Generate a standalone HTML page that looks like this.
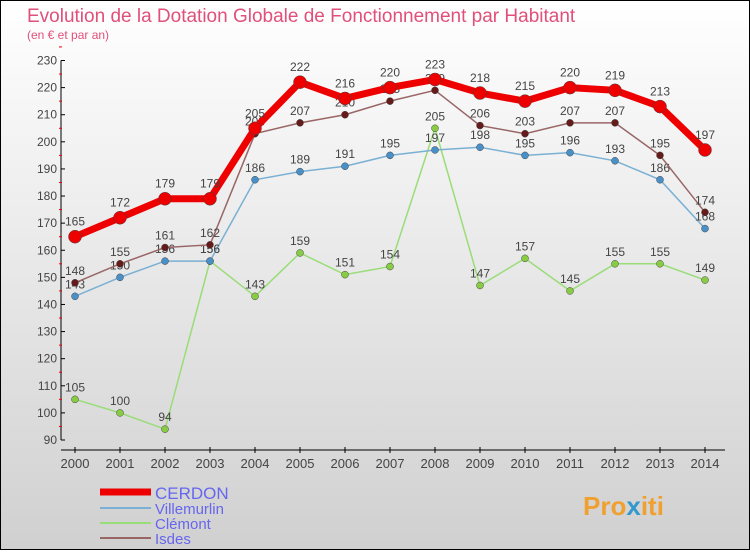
<!DOCTYPE html>
<html><head><meta charset="utf-8"><style>
body{margin:0;width:750px;height:550px;overflow:hidden;font-family:"Liberation Sans",sans-serif}
</style></head><body>
<svg width="750" height="550" xmlns="http://www.w3.org/2000/svg">
<defs><linearGradient id="bg" x1="0" y1="0" x2="0" y2="1"><stop offset="0" stop-color="#ffffff"/><stop offset="1" stop-color="#d0d0d0"/></linearGradient></defs>
<rect x="0.5" y="0.5" width="749" height="549" fill="url(#bg)" stroke="#000"/>
<text x="27" y="22" font-size="19" fill="#e0507a">Evolution de la Dotation Globale de Fonctionnement par Habitant</text>
<text x="27" y="39" font-size="12" fill="#e0507a">(en € et par an)</text>
<g id="axes"></g><g id="series"></g>
<g>
<line x1="100" y1="492" x2="151" y2="492" stroke="#ee0000" stroke-width="7"/>
<text x="155" y="499" font-size="17" fill="#6666ee">CERDON</text>
<line x1="100" y1="508" x2="151" y2="508" stroke="#7ab0d4" stroke-width="2"/>
<text x="155" y="514" font-size="15" fill="#6666ee">Villemurlin</text>
<line x1="100" y1="523" x2="151" y2="523" stroke="#99dd77" stroke-width="2"/>
<text x="155" y="529" font-size="15" fill="#6666ee">Clémont</text>
<line x1="100" y1="538" x2="151" y2="538" stroke="#996666" stroke-width="2"/>
<text x="155" y="544" font-size="15" fill="#6666ee">Isdes</text>
</g>
<text x="583" y="515" font-size="26" font-weight="bold" fill="#f0a030">Pro<tspan fill="#3399cc">x</tspan>iti</text>
</svg>
<script>
const years=[2000,2001,2002,2003,2004,2005,2006,2007,2008,2009,2010,2011,2012,2013,2014];
const cerdon=[165,172,179,179,205,222,216,220,223,218,215,220,219,213,197];
const villemurlin=[143,150,156,156,186,189,191,195,197,198,195,196,193,186,168];
const clemont=[105,100,94,156,143,159,151,154,205,147,157,145,155,155,149];
const isdes=[148,155,161,162,203,207,210,215,219,206,203,207,207,195,174];
const yTicks=[90,100,110,120,130,140,150,160,170,180,190,200,210,220,230];
const NS="http://www.w3.org/2000/svg";
const xS=i=>75+i*45;
const yS=v=>440-(v-90)*(379.5/140);
function mk(t,a,p){const e=document.createElementNS(NS,t);for(const k in a)e.setAttribute(k,a[k]);p.appendChild(e);return e;}
const ax=document.getElementById('axes');
let yl=mk('line',{x1:61,y1:yS(230),x2:61,y2:yS(90),stroke:'#000'},ax);


yTicks.forEach(v=>{
 const t=mk('line',{x1:61,y1:yS(v),x2:65,y2:yS(v),stroke:'#000'},ax);
 
 
 const m=mk('line',{x1:59,y1:yS(v+5),x2:62,y2:yS(v+5),stroke:'#e00'},ax);
 
 
 const l=mk('text',{x:57,y:yS(v)+4,'font-size':12,fill:'#444','text-anchor':'end'},ax);l.textContent=v;
 
 
});
let xl=mk('line',{x1:61,y1:450,x2:725,y2:450,stroke:'#000'},ax);


years.forEach((y,i)=>{
 const t=mk('line',{x1:xS(i),y1:447,x2:xS(i),y2:453,stroke:'#000'},ax);
 
 
 const l=mk('text',{x:xS(i),y:468,'font-size':13,fill:'#444','text-anchor':'middle'},ax);l.textContent=y;
 
 
});
const sg=document.getElementById('series');
function draw(name,data,color,w,r,dot,off){
 const g=mk('g',{},sg);
 
 
 const p=mk('polyline',{points:data.map((v,i)=>xS(i)+','+yS(v)).join(' '),fill:'none',stroke:color,'stroke-width':w},g);
 
 
 data.forEach((v,i)=>{
  const c=mk('circle',{cx:xS(i),cy:yS(v),r:r,fill:dot,stroke:'#444','stroke-width':0.5},g);
  
  
  const t=mk('text',{x:xS(i),y:yS(v)-off,'font-size':12,fill:'#444','text-anchor':'middle'},g);t.textContent=v;
  
  
 });
}
draw('clemont',clemont,'#99dd77',1.5,3.5,'#88cc44',8);
draw('villemurlin',villemurlin,'#7ab0d4',1.5,3.5,'#4a90c8',8);
draw('isdes',isdes,'#996666',1.5,3.5,'#661a1a',8);
draw('cerdon',cerdon,'#ee0000',7,6.5,'#ee0000',11);
</script>
</body></html>
